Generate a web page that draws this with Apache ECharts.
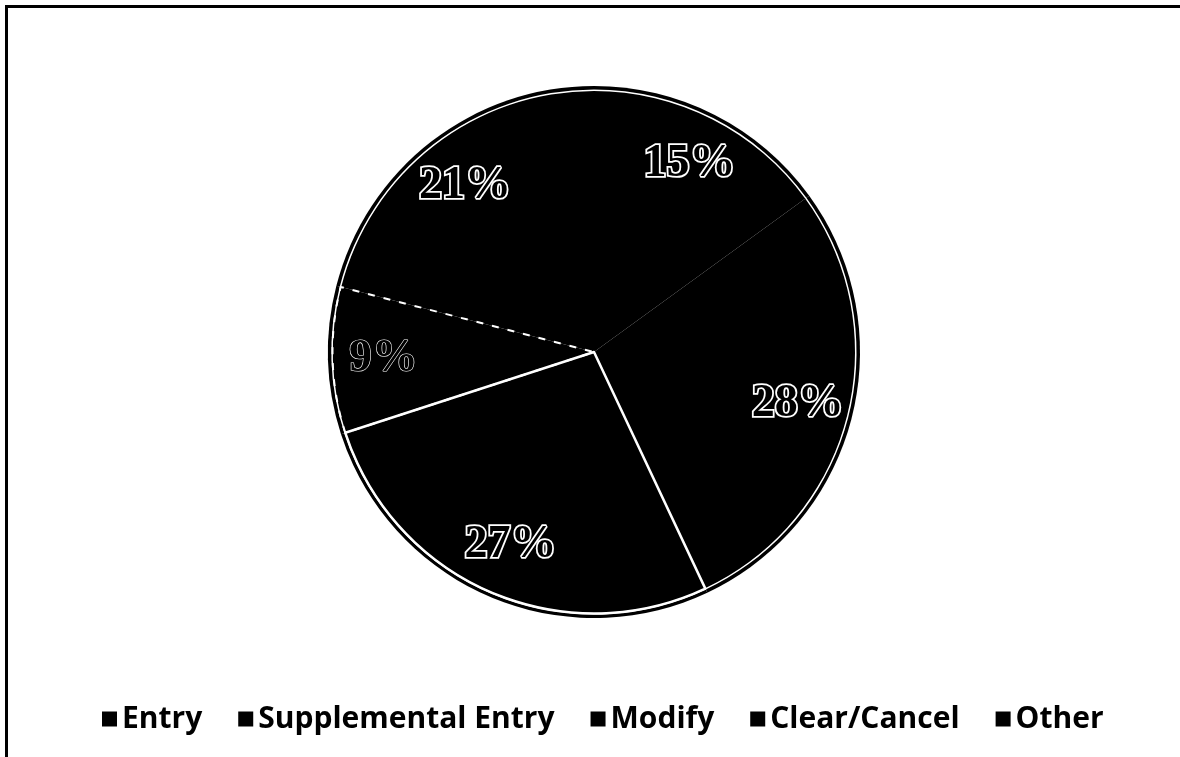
<!DOCTYPE html>
<html>
<head>
<meta charset="utf-8">
<script src="https://cdn.jsdelivr.net/npm/echarts@6/dist/echarts.min.js"></script>
<style>
  html, body { margin: 0; padding: 0; background: #fff; overflow: hidden; }
  #chart { width: 1180px; height: 757px; }
  #frame {
    position: absolute; left: 5px; top: 5px; width: 1175px; height: 752px;
    border-top: 3px solid #000; border-left: 3px solid #000;
    box-sizing: border-box; pointer-events: none;
  }
</style>
</head>
<body>
<div id="chart"></div>
<div id="frame"></div>
<script>
// Share of transactions by type, in percent
const categories = ['Entry', 'Supplemental Entry', 'Modify', 'Clear/Cancel', 'Other'];
const shares = [15, 28, 27, 9, 21];

// Edge style for each slice (only some slice edges are drawn in white)
const edgeStyles = [
  { borderWidth: 0 },
  { borderWidth: 0 },
  { borderColor: '#fff', borderWidth: 2.5, borderType: 'solid' },
  { borderColor: '#fff', borderWidth: 2, borderType: [7, 9] },
  { borderWidth: 0 }
];

// Outline strength of each percentage label (the narrow slice's label is faint)
const labelOutline = [3.5, 3.5, 3.5, 1.2, 3.5];

const CENTER = [594, 352];
const R = 266;

const pieData = (style, extra) => categories.map((name, i) => Object.assign({
  name, value: shares[i], itemStyle: typeof style === 'function' ? style(i) : style
}, extra ? extra(i) : {}));

const common = {
  type: 'pie',
  center: CENTER,
  startAngle: 90,
  clockwise: true,
  silent: true,
  animation: false,
  emphasis: { disabled: true },
  labelLine: { show: false }
};

const chart = echarts.init(document.getElementById('chart'), null, { renderer: 'canvas' });
chart.setOption({
  backgroundColor: '#fff',
  legend: {
    data: categories,
    top: 699,
    left: 97,
    icon: 'rect',
    itemWidth: 15,
    itemHeight: 15,
    itemGap: 36,
    selectedMode: false,
    textStyle: {
      fontFamily: 'Open Sans',
      fontWeight: 'bold',
      fontSize: 30,
      color: '#000'
    }
  },
  series: [
    // solid black pie body
    Object.assign({}, common, {
      name: 'body',
      radius: [0, R],
      label: { show: false },
      data: pieData({ color: '#000', borderWidth: 0 })
    }),
    // thin light rim just inside the edge
    Object.assign({}, common, {
      name: 'rim',
      radius: [R - 5, R - 3.5],
      label: { show: false },
      data: pieData({ color: '#fff', borderWidth: 0 })
    }),
    // slice separators
    Object.assign({}, common, {
      name: 'edges',
      radius: [0, R - 4.5],
      label: { show: false },
      data: pieData(i => Object.assign({ color: 'rgba(0,0,0,0)' }, edgeStyles[i]))
    }),
    // percentage labels, placed in the outer part of each slice
    Object.assign({}, common, {
      name: 'labels',
      radius: [R * 0.56, R],
      label: {
        show: true,
        position: 'inside',
        formatter: '{c}%',
        fontFamily: 'Liberation Serif',
        fontWeight: 'bold',
        fontSize: 46,
        color: '#000',
        textBorderColor: '#fff',
        textBorderWidth: 3.5
      },
      data: pieData({ color: 'rgba(0,0,0,0)', borderWidth: 0 },
        i => ({ label: { textBorderWidth: labelOutline[i] } }))
    })
  ]
});
</script>
</body>
</html>
